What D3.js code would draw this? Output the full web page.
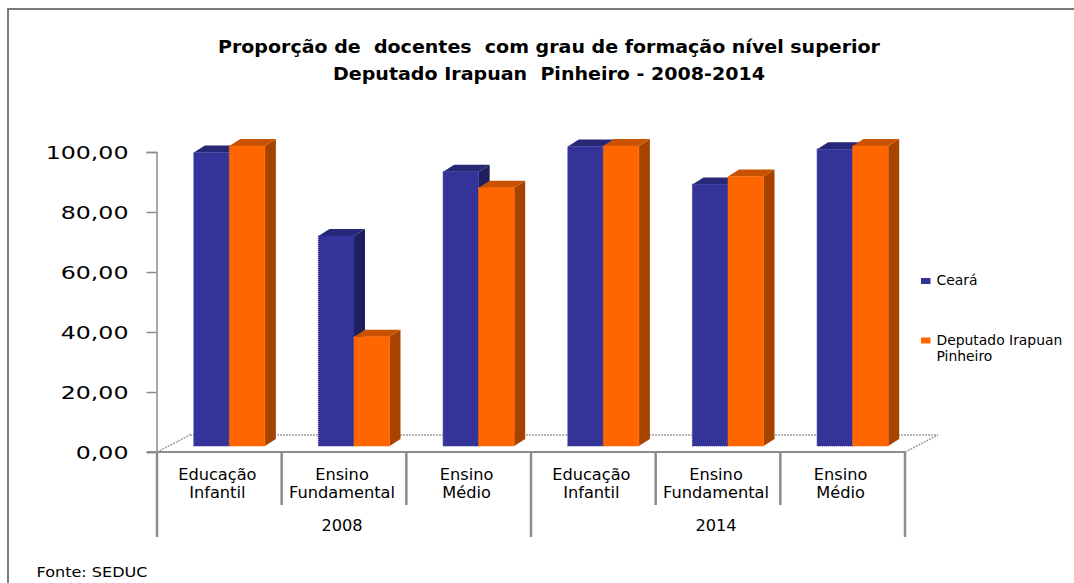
<!DOCTYPE html>
<html>
<head>
<meta charset="utf-8">
<script src="https://cdn.jsdelivr.net/npm/d3@7"></script>
<style>
  html, body { margin: 0; padding: 0; background: #fff; }
  svg { display: block; }
  text { font-family: "DejaVu Sans", sans-serif; fill: #000; }
</style>
</head>
<body>
<svg id="chart" width="1074" height="583"></svg>
<script>
// ---- data ----
const years = ["2008", "2014"];
const levels = [["Educação", "Infantil"], ["Ensino", "Fundamental"], ["Ensino", "Médio"]];
const categories = ["Educação Infantil 2008", "Ensino Fundamental 2008", "Ensino Médio 2008",
                    "Educação Infantil 2014", "Ensino Fundamental 2014", "Ensino Médio 2014"];
const seriesNames = ["Ceará", "Deputado Irapuan Pinheiro"];
const ceara = [97.8, 70.0, 91.4, 99.8, 87.2, 98.9];
const deputado = [100.0, 36.4, 86.1, 100.0, 89.8, 100.0];
const yTickValues = [0, 20, 40, 60, 80, 100];
const titleLines = ["Proporção de  docentes  com grau de formação nível superior",
                    "Deputado Irapuan  Pinheiro - 2008-2014"];
const sourceText = "Fonte: SEDUC";

// ---- styling ----
const colors = {
  front: ["#333399", "#ff6600"],
  top:   ["#272778", "#c95200"],
  side:  ["#1f1f5e", "#a64300"]
};
const axisColor = "#8c8c8c";

const svg = d3.select("#chart");

// frame
svg.append("path")
  .attr("d", "M8,583 L8,9 L1074,9")
  .attr("fill", "none").attr("stroke", "#7a7a7a").attr("stroke-width", 2);

// title
const titleEls = svg.append("g").selectAll("text").data(titleLines).join("text")
  .attr("x", 549).attr("y", (d, i) => i === 0 ? 53 : 80)
  .attr("text-anchor", "middle")
  .attr("xml:space", "preserve")
  .style("white-space", "pre")
  .style("font-weight", "bold").style("font-size", "17.5px")
  .text(d => d);
const titleWidths = [662, 432];
titleEls.each(function(d, i) {
  d3.select(this).attr("textLength", titleWidths[i]).attr("lengthAdjust", "spacingAndGlyphs");
});

// scales
const x = d3.scaleBand().domain(d3.range(categories.length))
  .range([157, 905]).paddingInner(0.43).paddingOuter(0.215);
const xs = d3.scaleBand().domain(d3.range(seriesNames.length)).range([0, x.bandwidth()]);
const y = d3.scaleLinear().domain([0, 100]).range([452, 152]);

// 3D geometry
const floorDepth = { dx: 33, dy: -17 };
const barOffset = { dx: 10, dy: -6 };
const barDepth = { dx: 11, dy: -7 };

// floor (dotted back edges)
const floor = svg.append("g").attr("fill", "none").attr("stroke", "#a0a0a0").attr("stroke-width", 1.5)
  .attr("stroke-dasharray", "2 1");
const x0 = x.range()[0], x1 = x.range()[1], y0 = y(0);
floor.append("line").attr("x1", x0).attr("y1", y0).attr("x2", x0 + floorDepth.dx).attr("y2", y0 + floorDepth.dy);
floor.append("line").attr("x1", x0 + floorDepth.dx).attr("y1", y0 + floorDepth.dy)
  .attr("x2", x1 + floorDepth.dx).attr("y2", y0 + floorDepth.dy);
floor.append("line").attr("x1", x1).attr("y1", y0).attr("x2", x1 + floorDepth.dx).attr("y2", y0 + floorDepth.dy);

// y axis
const fmt = d3.formatLocale({ decimal: ",", thousands: ".", grouping: [3], currency: ["R$", ""] }).format(".2f");
const yAxis = svg.append("g").attr("transform", "translate(156.5,0)")
  .call(d3.axisLeft(y).tickValues(yTickValues).tickSize(10).tickPadding(0).tickFormat(fmt));
yAxis.select(".domain").attr("stroke", axisColor).attr("stroke-width", 1.5);
yAxis.selectAll(".tick line").attr("stroke", axisColor).attr("stroke-width", 1.5);
yAxis.selectAll(".tick text")
  .attr("x", -28).attr("dy", "0.36em")
  .style("font-size", "18.5px").style("font-family", "DejaVu Sans")
  .each(function() {
    const w = this.getComputedTextLength();
    d3.select(this).attr("textLength", w * 1.28).attr("lengthAdjust", "spacingAndGlyphs");
  });

// bars
const data = categories.map((c, i) => ({ i, values: [ceara[i], deputado[i]] }));
const barsG = svg.append("g");
data.forEach(d => {
  d.values.forEach((v, s) => {
    const bx = x(d.i) + xs(s) + barOffset.dx;
    const bw = xs.bandwidth();
    const by0 = y(0) + barOffset.dy;
    const byT = y(v) + barOffset.dy;
    const g = barsG.append("g");
    // side face
    g.append("path")
      .attr("d", `M${bx + bw},${by0} L${bx + bw + barDepth.dx},${by0 + barDepth.dy} L${bx + bw + barDepth.dx},${byT + barDepth.dy} L${bx + bw},${byT} Z`)
      .attr("fill", colors.side[s]);
    // top face
    g.append("path")
      .attr("d", `M${bx},${byT} L${bx + barDepth.dx},${byT + barDepth.dy} L${bx + bw + barDepth.dx},${byT + barDepth.dy} L${bx + bw},${byT} Z`)
      .attr("fill", colors.top[s]);
    // front face
    g.append("rect")
      .attr("x", bx).attr("y", byT).attr("width", bw).attr("height", by0 - byT)
      .attr("fill", colors.front[s])
      .attr("stroke", colors.front[s]).attr("stroke-width", 1.2).attr("stroke-dasharray", "1 1");
  });
});

// x axis front line
svg.append("line").attr("x1", 147).attr("x2", x1).attr("y1", y0).attr("y2", y0)
  .attr("stroke", axisColor).attr("stroke-width", 2);

// dividers
const step = x.step();
const divX = d3.range(categories.length + 1).map(k => x0 + k * step);
svg.append("g").selectAll("line").data(divX).join("line")
  .attr("x1", d => d).attr("x2", d => d)
  .attr("y1", y0)
  .attr("y2", (d, k) => (k % levels.length === 0) ? 537 : 505)
  .attr("stroke", axisColor).attr("stroke-width", 2.5);

// category labels
const catG = svg.append("g");
categories.forEach((c, i) => {
  const cx = x0 + (i + 0.5) * step - 2;
  const lines = levels[i % levels.length];
  lines.forEach((t, j) => {
    catG.append("text").attr("x", cx).attr("y", 480 + j * 18)
      .attr("text-anchor", "middle").style("font-size", "16.2px").text(t);
  });
});
// year labels
svg.append("g").selectAll("text").data(years).join("text")
  .attr("x", (d, k) => x0 + (k * levels.length + levels.length / 2) * step - 2)
  .attr("y", 531).attr("text-anchor", "middle").style("font-size", "16.2px")
  .text(d => d);

// legend
const legend = svg.append("g");
const legendY = [278, 337.5];
seriesNames.forEach((name, s) => {
  legend.append("rect").attr("x", 921).attr("y", legendY[s]).attr("width", 9.5).attr("height", 6)
    .attr("fill", colors.front[s]);
});
legend.append("text").attr("x", 936.5).attr("y", 285).style("font-size", "13.9px").text(seriesNames[0]);
legend.append("text").attr("x", 936.5).attr("y", 345).style("font-size", "13.9px").text("Deputado Irapuan");
legend.append("text").attr("x", 936.5).attr("y", 361).style("font-size", "13.9px").text("Pinheiro");

// source
svg.append("text").attr("x", 36.5).attr("y", 577).style("font-size", "14.5px")
  .text(sourceText)
  .each(function() { d3.select(this).attr("textLength", 111).attr("lengthAdjust", "spacingAndGlyphs"); });
</script>
</body>
</html>
